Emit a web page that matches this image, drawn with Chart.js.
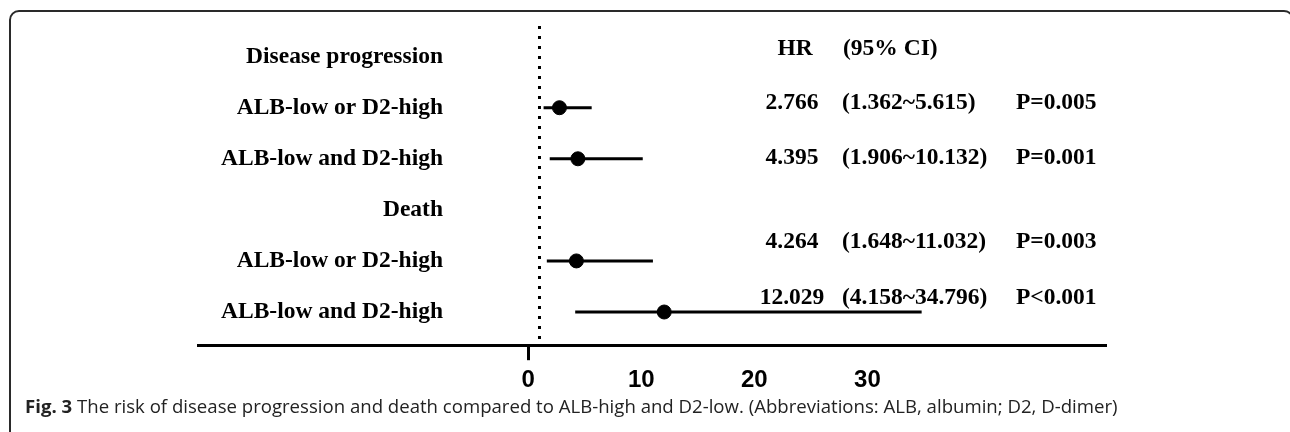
<!DOCTYPE html>
<html>
<head>
<meta charset="utf-8">
<script src="https://cdn.jsdelivr.net/npm/chart.js@4.4.1/dist/chart.umd.min.js"></script>
<style>
  html, body { margin: 0; padding: 0; background: #fff; }
  #wrap { position: relative; width: 1290px; height: 432px; overflow: hidden; }
  #frame {
    position: absolute; left: 9px; top: 10px; width: 1281px; height: 428px;
    border: 2px solid #2a2a2a; border-radius: 10px;
  }
  #plot { position: absolute; left: 0; top: 0; }
  #caption {
    position: absolute; left: 25px; top: 393px; white-space: nowrap;
    font-family: "Open Sans", sans-serif; font-size: 18.6px; color: #222;
  }
</style>
</head>
<body>
<div id="wrap">
  <div id="frame"></div>
  <canvas id="plot" width="1290" height="432"></canvas>
  <div id="caption"><b>Fig. 3</b> The risk of disease progression and death compared to ALB-high and D2-low. (Abbreviations: ALB, albumin; D2, D-dimer)</div>
</div>
<script>
// rows from top to bottom (0 = first heading)
const rowLabels = ["Disease progression", "ALB-low or D2-high", "ALB-low and D2-high", "Death", "ALB-low or D2-high", "ALB-low and D2-high"];
const hrRows = [1, 2, 4, 5];
const hrValues = [2.766, 4.395, 4.264, 12.029];
const ciLow = [1.362, 1.906, 1.648, 4.158];
const ciHigh = [5.615, 10.132, 11.032, 34.796];
const pLabels = ["P=0.005", "P=0.001", "P=0.003", "P<0.001"];
const refValue = 1;
const xTicks = [0, 10, 20, 30];

const serif = "bold 23.5px 'Liberation Serif', 'Times New Roman', serif";

// text rows sit a bit above the marks in the original
const textShift = [-5, -1, -19, -14];

const datasets = [];

datasets.push({
  type: "line",
  data: [{ x: refValue, y: -0.6 }, { x: refValue, y: 5.65 }],
  borderColor: "#000",
  borderWidth: 3,
  borderDash: [3, 7],
  pointRadius: 0,
  clip: false,
});

hrRows.forEach((r, i) => {
  datasets.push({
    type: "line",
    data: [{ x: ciLow[i], y: r }, { x: ciHigh[i], y: r }],
    borderColor: "#000",
    borderWidth: 3,
    pointRadius: 0,
  });
});

datasets.push({
  type: "scatter",
  data: hrRows.map((r, i) => ({ x: hrValues[i], y: r })),
  backgroundColor: "#000",
  borderColor: "#000",
  pointRadius: 7,
  pointHoverRadius: 7,
});

const textPlugin = {
  id: "forestText",
  afterDraw(chart) {
    const ctx = chart.ctx;
    const y = chart.scales.y;
    ctx.save();
    ctx.fillStyle = "#000";
    ctx.font = serif;
    ctx.textBaseline = "middle";

    ctx.textAlign = "right";
    rowLabels.forEach((t, i) => {
      ctx.fillText(t, 443, y.getPixelForValue(i));
    });

    const headY = y.getPixelForValue(0) - 8;
    ctx.textAlign = "center";
    ctx.fillText("HR", 795, headY);
    ctx.textAlign = "left";
    ctx.fillText("(95% CI)", 843, headY);

    hrRows.forEach((r, i) => {
      const py = y.getPixelForValue(r) + textShift[i];
      ctx.textAlign = "center";
      ctx.fillText(hrValues[i].toFixed(3), 792, py);
      ctx.textAlign = "left";
      ctx.fillText("(" + ciLow[i].toFixed(3) + "~" + ciHigh[i].toFixed(3) + ")", 842, py);
      ctx.fillText(pLabels[i], 1016, py);
    });
    ctx.restore();
  },
};

new Chart(document.getElementById("plot"), {
  data: { datasets: datasets },
  options: {
    responsive: false,
    animation: false,
    layout: { padding: { left: 198, right: 184, top: 26, bottom: 31 } },
    plugins: { legend: { display: false }, tooltip: { enabled: false } },
    scales: {
      x: {
        type: "linear",
        min: -29.2,
        max: 51.1,
        afterBuildTicks: (scale) => {
          scale.ticks = xTicks.map((v) => ({ value: v }));
        },
        border: { display: true, color: "#000", width: 3 },
        grid: {
          drawOnChartArea: false,
          drawTicks: true,
          tickLength: 15,
          tickWidth: 3,
          tickColor: (c) => (c.tick && c.tick.value === 0 ? "#000" : "rgba(0,0,0,0)"),
        },
        ticks: {
          color: "#000",
          padding: 6,
          maxRotation: 0,
          font: { family: "'Liberation Sans', Arial, sans-serif", size: 24, weight: "bold" },
        },
      },
      y: {
        type: "linear",
        reverse: true,
        min: -0.6,
        max: 5.65,
        display: false,
      },
    },
  },
  plugins: [textPlugin],
});
</script>
</body>
</html>
